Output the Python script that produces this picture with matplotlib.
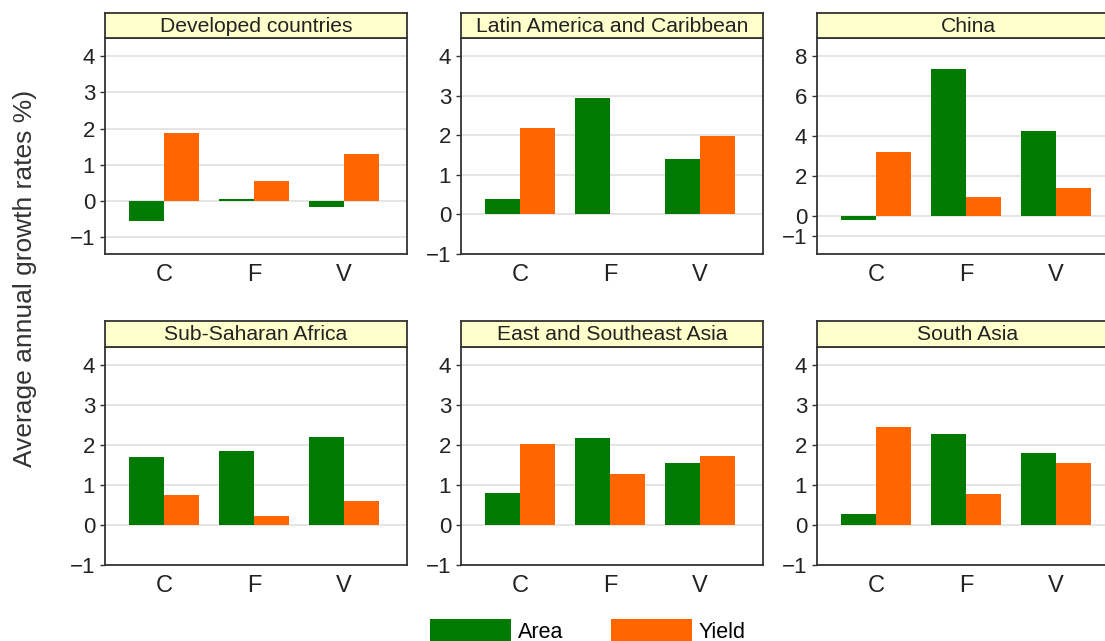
import matplotlib
matplotlib.use("Agg")
import matplotlib.pyplot as plt
import numpy as np
from matplotlib.patches import Patch

plt.rcParams['font.family'] = ['Liberation Sans', 'DejaVu Sans']

# Crop groups and regions
crops = ["C", "F", "V"]
regions = ["Developed countries", "Latin America and Caribbean", "China",
           "Sub-Saharan Africa", "East and Southeast Asia", "South Asia"]

# Average annual growth rates (%) by region: Area and Yield for C, F, V
area_developed = [-0.55, 0.05, -0.17]
yield_developed = [1.87, 0.56, 1.30]
area_latam = [0.38, 2.95, 1.39]
yield_latam = [2.18, 0.0, 1.98]
area_china = [-0.20, 7.35, 4.23]
yield_china = [3.22, 0.93, 1.40]
area_ssa = [1.69, 1.86, 2.19]
yield_ssa = [0.74, 0.23, 0.60]
area_esa = [0.81, 2.17, 1.56]
yield_esa = [2.03, 1.28, 1.72]
area_sa = [0.27, 2.27, 1.79]
yield_sa = [2.44, 0.78, 1.55]

area_series = [area_developed, area_latam, area_china, area_ssa, area_esa, area_sa]
yield_series = [yield_developed, yield_latam, yield_china, yield_ssa, yield_esa, yield_sa]

yticks_std = [-1, 0, 1, 2, 3, 4]
yticks_china = [-1, 0, 2, 4, 6, 8]
ylims = [(-1.46, 4.5), (-1.0, 4.46), (-1.9, 8.9),
         (-1.0, 4.45), (-1.0, 4.45), (-1.0, 4.45)]
yticks = [yticks_std, yticks_std, yticks_china, yticks_std, yticks_std, yticks_std]

GREEN = "#007A00"
ORANGE = "#FF6600"
STRIP = "#FFFFCC"
EDGE = "#333333"
TEXT = "#222222"

W, H = 1105, 641
fig = plt.figure(figsize=(W / 100, H / 100), dpi=100)

col_left = [105, 461, 817]
panel_w = 302
rows = [(13, 38, 254), (321, 347, 565)]  # strip top, strip bottom / axes top, axes bottom


def frac_box(x0, y_top, w, y_bot):
    return [x0 / W, 1 - y_bot / H, w / W, (y_bot - y_top) / H]


x = np.arange(len(crops))
bw = 0.39

for i, region in enumerate(regions):
    r, c = divmod(i, 3)
    s_top, a_top, a_bot = rows[r]
    ax = fig.add_axes(frac_box(col_left[c], a_top, panel_w, a_bot))
    sx = fig.add_axes(frac_box(col_left[c], s_top, panel_w, a_top))

    ax.set_axisbelow(True)
    ax.bar(x - bw / 2, area_series[i], width=bw, color=GREEN, linewidth=0)
    ax.bar(x + bw / 2, yield_series[i], width=bw, color=ORANGE, linewidth=0)

    ax.set_xlim(-0.66, 2.7)
    ax.set_ylim(*ylims[i])
    ax.set_yticks(yticks[i])
    ax.set_xticks(x)
    ax.set_xticklabels(crops)
    ax.yaxis.grid(True, color="#e3e3e3", linewidth=1.3)
    ax.tick_params(axis="y", length=3.6, width=1, color=EDGE, labelsize=16,
                   labelcolor=TEXT, pad=3.5)
    ax.tick_params(axis="x", length=0, labelsize=17, labelcolor=TEXT, pad=7)
    for sp in ax.spines.values():
        sp.set_color(EDGE)
        sp.set_linewidth(1.3)

    sx.set_facecolor(STRIP)
    sx.set_xticks([])
    sx.set_yticks([])
    for sp in sx.spines.values():
        sp.set_color(EDGE)
        sp.set_linewidth(1.3)
    sx.text(0.5, 0.47, region, ha="center", va="center", fontsize=15.2,
            color=TEXT, transform=sx.transAxes)

fig.text(25 / W, 1 - 278 / H, "Average annual growth rates %)", rotation=90,
         ha="center", va="center", fontsize=19, color="#333333")

handles = [Patch(facecolor=GREEN, edgecolor="none"),
           Patch(facecolor=ORANGE, edgecolor="none")]
fig.legend(handles, ["Area", "Yield"], loc="center", ncol=2,
           bbox_to_anchor=(588 / W, 1 - 631 / H), frameon=False,
           handlelength=3.75, handleheight=1.2, handletextpad=0.33,
           columnspacing=2.2, fontsize=15.5, borderpad=0, borderaxespad=0)

fig.savefig("out.png", dpi=100)
